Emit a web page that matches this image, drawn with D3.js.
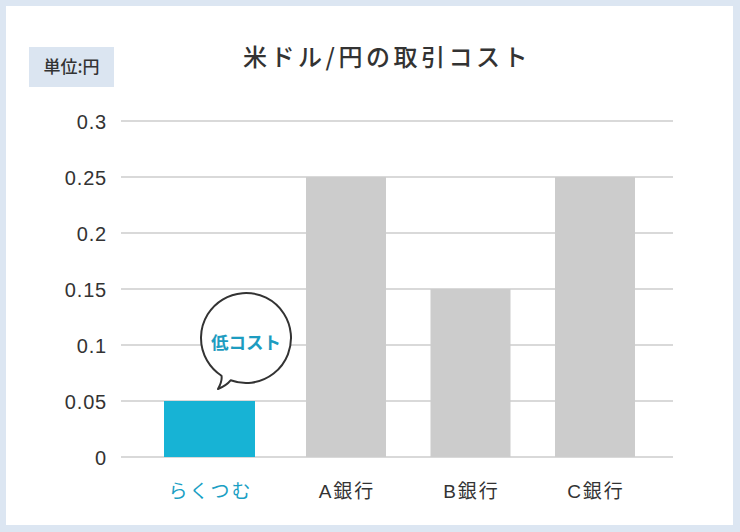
<!DOCTYPE html>
<html>
<head>
<meta charset="utf-8">
<script src="https://cdn.jsdelivr.net/npm/d3@7"></script>
<style>
  html, body { margin: 0; padding: 0; background: #dce6f2; }
  svg { display: block; }
</style>
</head>
<body>
<div id="chart"></div>
<script>
// chart data
const categories = ["らくつむ", "A銀行", "B銀行", "C銀行"];
const costs = [0.05, 0.25, 0.15, 0.25];
const yTicks = [0, 0.05, 0.1, 0.15, 0.2, 0.25, 0.3];
const highlightName = "らくつむ";
const title = "米ドル/円の取引コスト";
const unitLabel = "単位:円";
const bubbleText = "低コスト";

const width = 740;
const height = 532;
const jp = "'Noto Sans CJK JP', 'Noto Sans', sans-serif";
const latin = "'Liberation Sans', Arial, 'Noto Sans CJK JP', sans-serif";

const svg = d3.select("#chart").append("svg")
    .attr("width", width)
    .attr("height", height);

// white panel
svg.append("rect")
    .attr("x", 6).attr("y", 6)
    .attr("width", 727).attr("height", 519)
    .attr("fill", "#ffffff");

const x = d3.scaleBand()
    .domain(categories)
    .range([159.25, 657.25])
    .paddingInner(0.3574)
    .paddingOuter(0.1787);

const y = d3.scaleLinear()
    .domain([0, 0.3])
    .range([457, 121]);

// gridlines
svg.append("g")
    .selectAll("line")
    .data(yTicks)
    .join("line")
    .attr("x1", 121)
    .attr("x2", 673)
    .attr("y1", d => y(d))
    .attr("y2", d => y(d))
    .attr("stroke", "#d9d9d9")
    .attr("stroke-width", 2);

// y tick labels
svg.append("g")
    .selectAll("text")
    .data(yTicks)
    .join("text")
    .attr("x", 107)
    .attr("y", d => y(d) + 8)
    .attr("text-anchor", "end")
    .attr("font-family", latin)
    .attr("font-size", 20)
    .attr("letter-spacing", 0.8)
    .attr("fill", "#333")
    .text(d => d3.format("~g")(d));

// highlighted bar is drawn a little wider and nudged left
const barX = d => d === highlightName ? x(d) - 17.5 : x(d);
const barW = d => d === highlightName ? x.bandwidth() + 11 : x.bandwidth();
const centerX = d => barX(d) + barW(d) / 2;

svg.append("g")
    .selectAll("rect")
    .data(categories)
    .join("rect")
    .attr("x", d => barX(d))
    .attr("y", (d, i) => y(costs[i]))
    .attr("width", d => barW(d))
    .attr("height", (d, i) => y(0) - y(costs[i]))
    .attr("fill", d => d === highlightName ? "#17b3d5" : "#cccccc");

// x labels
svg.append("g")
    .selectAll("text")
    .data(categories)
    .join("text")
    .attr("x", d => centerX(d) + 1)
    .attr("y", 498)
    .attr("text-anchor", "middle")
    .attr("font-family", latin)
    .attr("font-size", 19)
    .attr("letter-spacing", 2)
    .attr("fill", d => d === highlightName ? "#1a9fc4" : "#333")
    .text(d => d);

// title
svg.append("text")
    .attr("x", 387)
    .attr("y", 66)
    .attr("text-anchor", "middle")
    .attr("font-family", jp)
    .attr("font-size", 24)
    .attr("font-weight", 500)
    .attr("letter-spacing", 3.5)
    .attr("fill", "#333")
    .text(title);

// unit box
svg.append("rect")
    .attr("x", 29).attr("y", 47)
    .attr("width", 85).attr("height", 40)
    .attr("fill", "#dbe5f1");
svg.append("text")
    .attr("x", 71.5)
    .attr("y", 73)
    .attr("text-anchor", "middle")
    .attr("font-family", jp)
    .attr("font-size", 17)
    .attr("font-weight", 500)
    .attr("fill", "#333")
    .text(unitLabel);

// speech bubble over the highlighted bar
const hiIdx = categories.indexOf(highlightName);
const bx = barX(highlightName) + barW(highlightName) - 9;
const by = y(costs[hiIdx]) - 63;
const r = 45;
const a1 = 110 * Math.PI / 180, a2 = 123 * Math.PI / 180;
const p1 = [bx + r * Math.cos(a1), by + r * Math.sin(a1)];
const p2 = [bx + r * Math.cos(a2), by + r * Math.sin(a2)];
const tip = [bx - 28, by + 51];
const bubble = `M${p2[0]},${p2[1]} A${r},${r} 0 1 1 ${p1[0]},${p1[1]}`
    + ` Q${p1[0] - 4},${p1[1] + 5} ${tip[0]},${tip[1]}`
    + ` Q${p2[0] + 1},${p2[1] + 5} ${p2[0]},${p2[1]} Z`;
svg.append("path")
    .attr("d", bubble)
    .attr("fill", "#fff")
    .attr("stroke", "#333")
    .attr("stroke-width", 2)
    .attr("stroke-linejoin", "round");
svg.append("text")
    .attr("x", bx)
    .attr("y", by + 11)
    .attr("text-anchor", "middle")
    .attr("font-family", jp)
    .attr("font-size", 17.5)
    .attr("font-weight", 700)
    .attr("fill", "#1d9cc0")
    .text(bubbleText);
</script>
</body>
</html>
